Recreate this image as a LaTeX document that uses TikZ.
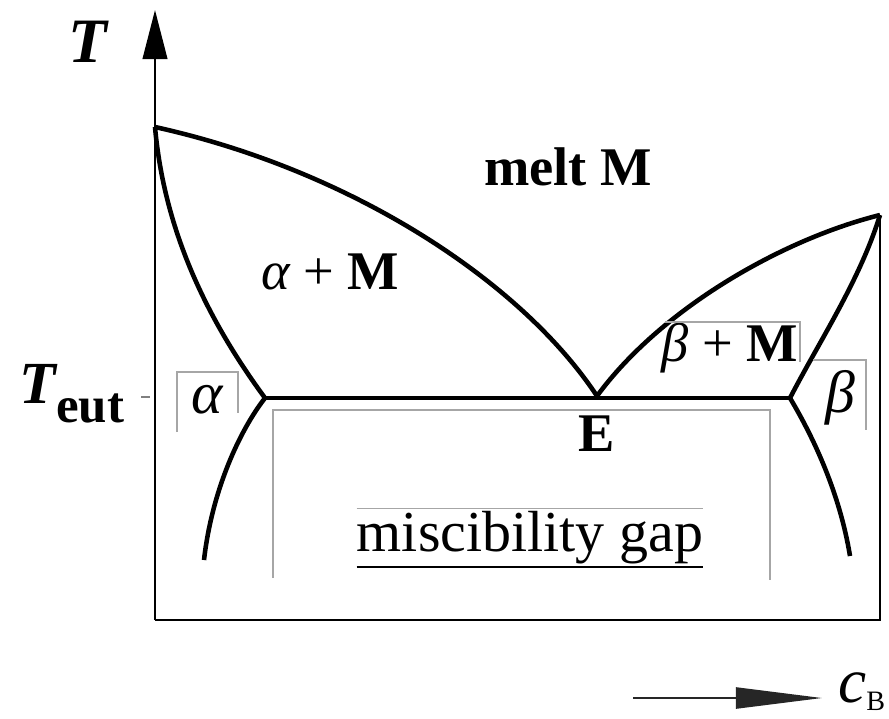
\documentclass[tikz,border=0pt]{standalone}
\usepackage{fontspec}
\setmainfont{Liberation Serif}
\usetikzlibrary{arrows.meta, positioning}

\begin{document}
\begin{tikzpicture}[x=0.02cm, y=-0.02cm,
  phase/.style={line width=2.6pt},
  axis/.style={line width=1.4pt},
  frame/.style={draw=gray!70, line width=0.7pt},
  lbl/.style={inner sep=0pt, font=\fontsize{31}{36}\selectfont\bfseries},
  >={Triangle[length=28pt, width=14pt]}]
  \useasboundingbox (0,0) rectangle (889,718);

  % Axes
  \coordinate (O) at (155,620);
  \coordinate (Ttop) at (155,10);
  \coordinate (R) at (880,620);
  \coordinate (TB) at (880,215);
  \draw[axis,->] (O) -- (Ttop);
  \draw[axis] (O) -- (R) -- (TB);
  \node[inner sep=0pt, font=\fontsize{36}{40}\selectfont\bfseries\itshape] (T) at (88,42) {T};

  % Eutectic temperature
  \draw[gray, line width=0.8pt] (141,397) -- (150,397);
  \node[inner sep=0pt, anchor=base] (Teut) at (72,403)
    {\fontsize{34}{38}\selectfont\bfseries\itshape T\raisebox{-11pt}{\fontsize{29}{32}\selectfont\upshape eut}};

  % Phase boundaries
  \coordinate (TA) at (155,127);
  \coordinate (E) at (597,396);
  \coordinate (aE) at (265,398);
  \coordinate (bE) at (790,398);
  \coordinate (aL) at (204,560);
  \coordinate (bL) at (850,556);
  \draw[phase] (TA) .. controls (350,170) and (520,280) .. (E);
  \draw[phase] (E) .. controls (660,310) and (780,240) .. (TB);
  \draw[phase] (TA) .. controls (165,240) and (215,330) .. (aE);
  \draw[phase] (aE) .. controls (240,430) and (212,490) .. (aL);
  \draw[phase] (TB) .. controls (860,280) and (820,340) .. (bE);
  \draw[phase] (bE) .. controls (815,440) and (840,495) .. (bL);
  \draw[phase] (aE) -- (bE);

  % Regions
  \node[lbl] (melt) at (568,167) {melt M};
  \node[lbl] (aM) at (330,272) {\mdseries\itshape α\upshape\ + \bfseries M};
  \node[lbl] (bM) at (730,348) {\mdseries\itshape β\upshape\ + \bfseries M};
  \node[lbl, font=\fontsize{34}{38}\selectfont\itshape] (alpha) at (207,400) {α};
  \node[lbl, font=\fontsize{34}{38}\selectfont\itshape] (beta) at (840,398) {β};
  \node[lbl, font=\fontsize{31}{34}\selectfont\bfseries, below=11pt of E] (Elbl) {E};
  \node[inner xsep=0pt, inner ysep=1.5pt, font=\fontsize{33}{36}\selectfont] (gap) at (530,538) {miscibility gap};
  \draw[frame] (gap.north west) -- (gap.north east);
  \draw[line width=1pt] (gap.south west) -- (gap.south east);

  % Frames round labels
  \draw[frame] (177,432) -- (177,372) -- (238,372) -- (238,413);
  \draw[frame] (665,322) -- (800,322) -- (800,362);
  \draw[frame] (813,360) -- (866,360) -- (866,430);
  \draw[frame] (273,578) -- (273,410) -- (770,410) -- (770,580);

  % Concentration
  \coordinate (cs) at (633,698);
  \coordinate (ce) at (822,698);
  \draw[black!85, line width=1.2pt, -{Triangle[length=49pt, width=12pt]}] (cs) -- (ce);
  \node[inner sep=0pt, anchor=base west, font=\fontsize{36}{40}\selectfont\itshape] (c) at (838,702)
    {c\raisebox{-5pt}{\fontsize{16}{18}\selectfont\upshape B}};
\end{tikzpicture}
\end{document}
